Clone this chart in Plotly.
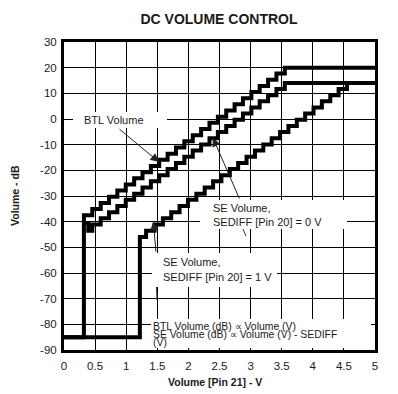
import plotly.graph_objects as go

# ---- data ----
x_ticks = [0, 0.5, 1, 1.5, 2, 2.5, 3, 3.5, 4, 4.5, 5]
x_tick_labels = ["0", "0.5", "1", "1.5", "2", "2.5", "3", "3.5", "4", "4.5", "5"]
y_ticks = [30, 20, 10, 0, -10, -20, -30, -40, -50, -60, -70, -80, -90]
y_tick_labels = ["30", "20", "10", "0", "-10", "-20", "-30", "-40", "-50", "-60", "-70", "-80", "-90"]

btl_v = [0, 0.32, 0.455, 0.59, 0.724, 0.858, 0.993, 1.128, 1.262, 1.397, 1.531, 1.666, 1.80,
         1.935, 2.07, 2.204, 2.339, 2.474, 2.608, 2.743, 2.877, 3.012, 3.146, 3.281, 3.415, 3.55, 5.0]
btl_db = [-85, -37.5, -35.1, -32.7, -30.3, -27.9, -25.5, -23.1, -20.7, -18.3, -15.9, -13.5, -11.1,
          -8.7, -6.3, -3.9, -1.5, 0.9, 3.3, 5.7, 8.1, 10.5, 12.9, 15.3, 17.7, 20, 20]

se0_v = [0.32, 0.39, 0.455, 0.59, 0.724, 0.858, 0.993, 1.128, 1.262, 1.397, 1.531, 1.666, 1.80,
         1.935, 2.07, 2.204, 2.339, 2.474, 2.608, 2.743, 2.877, 3.012, 3.146, 3.281, 3.415, 3.55, 5.0]
se0_db = [-40.5, -43.5, -41.1, -38.7, -36.3, -33.9, -31.5, -29.1, -26.7, -24.3, -21.9, -19.5, -17.1,
          -14.7, -12.3, -9.9, -7.5, -5.1, -2.7, -0.3, 2.1, 4.5, 6.9, 9.3, 11.7, 14, 14]

se1_v = [0, 1.22, 1.32, 1.455, 1.59, 1.724, 1.858, 1.993, 2.128, 2.262, 2.397, 2.531, 2.666, 2.80,
         2.935, 3.07, 3.204, 3.339, 3.474, 3.608, 3.743, 3.877, 4.012, 4.146, 4.281, 4.415, 4.55, 4.6]
se1_db = [-85, -46, -43.5, -41.1, -38.7, -36.3, -33.9, -31.5, -29.1, -26.7, -24.3, -21.9, -19.5,
          -17.1, -14.7, -12.3, -9.9, -7.5, -5.1, -2.7, -0.3, 2.1, 4.5, 6.9, 9.3, 11.7, 14, 14]

FONT = "Liberation Sans, Arial, sans-serif"
TXT = "#1a1a1a"

# plot-area geometry in pixels (used only to place labels)
L, R, T, B = 64, 375, 42, 350
def X(px):
    return (px - L) / (R - L) * 5.0
def Y(py):
    return 30 - (py - T) / (B - T) * 120.0

fig = go.Figure()
for xs, ys in [(btl_v, btl_db), (se0_v, se0_db), (se1_v, se1_db)]:
    fig.add_trace(go.Scatter(x=xs, y=ys, mode="lines", line=dict(color="black", width=4, shape="hv"),
                             hoverinfo="skip"))

shapes = []
# white boxes behind the labels (hide grid lines)
for (x0, x1, y0, y1) in [(73, 167, 112, 128), (200, 347, 200, 229), (152, 277, 253, 287), (151, 371, 319, 348)]:
    shapes.append(dict(type="rect", xref="x", yref="y", x0=X(x0), x1=X(x1), y0=Y(y1), y1=Y(y0),
                       fillcolor="white", line=dict(width=0), layer="above"))
# arrow tails below text boxes
shapes.append(dict(type="line", xref="x", yref="y", x0=X(243), y0=Y(229), x1=X(246), y1=Y(236),
                   line=dict(color="#333", width=1), layer="above"))
shapes.append(dict(type="line", xref="x", yref="y", x0=X(156.5), y0=Y(287), x1=X(157), y1=Y(300),
                   line=dict(color="#333", width=1), layer="above"))

annotations = []
# arrows
for (hx, hy, tx, ty) in [(159, 162, 118, 128), (213, 138, 240, 200), (153.5, 222, 156, 253)]:
    annotations.append(dict(x=X(hx), y=Y(hy), ax=X(tx), ay=Y(ty), xref="x", yref="y", axref="x", ayref="y",
                            text="", showarrow=True, arrowhead=2, arrowsize=1.7, arrowwidth=1,
                            arrowcolor="#222", standoff=0))
# labels
def lab(text, px, py, anchor="left", size=11):
    annotations.append(dict(x=X(px), y=Y(py), xref="x", yref="y", text=text, showarrow=False,
                            xanchor=anchor, yanchor="middle", font=dict(family=FONT, size=size, color=TXT)))

lab("BTL Volume", 82, 120)
lab("SE Volume,", 211, 208)
lab("SEDIFF [Pin 20] = 0 V", 211, 222)
lab("SE Volume,", 161, 262)
lab("SEDIFF [Pin 20] = 1 V", 161, 277)
lab("BTL Volume (dB) \u221d Volume (V)", 151, 326.5, size=10.4)
lab("SE Volume (dB) \u221d Volume (V) - SEDIFF", 151, 334.5, size=10.4)
lab("(V)", 151, 342.5, size=10.4)

# titles
annotations.append(dict(xref="paper", yref="paper", x=(215 - L) / (R - L), y=(B - 382) / (B - T),
                        text="<b>Volume [Pin 21] - V</b>", showarrow=False, xanchor="center", yanchor="middle",
                        font=dict(family=FONT, size=10.5, color=TXT)))
annotations.append(dict(xref="paper", yref="paper", x=(15 - L) / (R - L), y=0.5, textangle=-90,
                        text="<b>Volume - dB</b>", showarrow=False, xanchor="center", yanchor="middle",
                        font=dict(family=FONT, size=10.5, color=TXT)))

fig.update_layout(
    width=398, height=394,
    margin=dict(l=L, r=398 - R, t=T, b=394 - B),
    paper_bgcolor="white", plot_bgcolor="white",
    showlegend=False,
    title=dict(text="<b>DC VOLUME CONTROL</b>", x=219 / 398, xref="container", xanchor="center",
               y=1 - 19 / 394, yref="container", yanchor="middle",
               font=dict(family=FONT, size=14, color=TXT)),
    xaxis=dict(range=[0, 5], tickvals=x_ticks, ticktext=x_tick_labels, showgrid=True, gridcolor="black",
               gridwidth=1, showline=True, linecolor="black", linewidth=3, mirror=True, zeroline=False,
               ticks="", ticklabelstandoff=3, tickfont=dict(family=FONT, size=11.5, color=TXT), fixedrange=True),
    yaxis=dict(range=[-90, 30], tickvals=y_ticks, ticktext=y_tick_labels, showgrid=True, gridcolor="black",
               gridwidth=1, showline=True, linecolor="black", linewidth=3, mirror=True, zeroline=False,
               ticks="", ticklabelstandoff=2, tickfont=dict(family=FONT, size=11.5, color=TXT), fixedrange=True),
    shapes=shapes, annotations=annotations,
)

fig.write_html("out.html", config={"displayModeBar": False, "staticPlot": True},
               post_script="document.body.style.margin='0';document.body.style.padding='0';")
